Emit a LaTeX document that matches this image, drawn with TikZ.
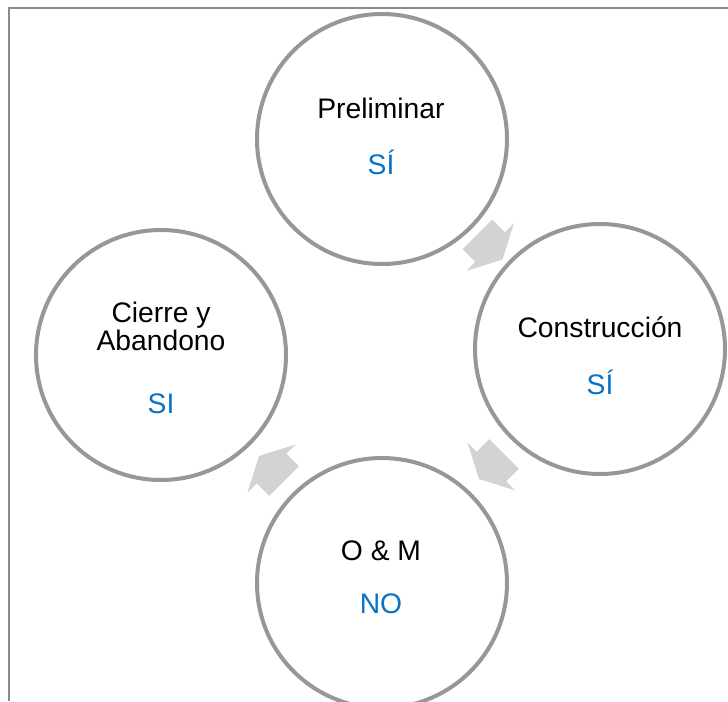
\documentclass[tikz,border=0pt]{standalone}
\usepackage{fontspec}
\setmainfont{Liberation Sans}
\definecolor{ringgray}{HTML}{979797}
\definecolor{framegray}{HTML}{8A8A8A}
\definecolor{arrowgray}{HTML}{D3D3D3}
\definecolor{answerblue}{HTML}{0A72C4}
\begin{document}
\begin{tikzpicture}[x=0.75pt,y=-0.75pt,
  phase/.style={circle, draw=ringgray, line width=3pt, fill=white,
    minimum size=187.5pt, inner sep=0pt},
  label/.style={anchor=base, font=\fontsize{21.2}{25}\selectfont, text=black, inner sep=0pt},
  answer/.style={anchor=base, font=\fontsize{21.2}{25}\selectfont, text=answerblue, inner sep=0pt},
  flow/.style={fill=arrowgray, draw=none}]
\useasboundingbox (0,0) rectangle (728,701);
% frame edges
\draw[framegray, line width=1.5pt] (9,701) -- (9,8) -- (728,8);

% phase circles
\node[phase] (pre) at (382,139) {};
\node[phase] (con) at (600,349) {};
\node[phase] (oym) at (382,583) {};
\node[phase] (cie) at (161,355) {};

% texts
\node[label] (preT) at (381,118) {Preliminar};
\node[answer] (preA) at (381,174) {SÍ};
\node[label] (conT) at (600,337) {Construcción};
\node[answer] (conA) at (600,394) {SÍ};
\node[label] (cieT1) at (161,322) {Cierre y};
\node[label] (cieT2) at (161,350) {Abandono};
\node[answer] (cieA) at (161,413) {SI};
\node[label] (oymT) at (381,560) {O \& M};
\node[answer] (oymA) at (381,613) {NO};

% block arrows between phases
\foreach \cx/\cy/\ang in {490/247/-45, 491.5/466.5/-135, 271.5/468.5/135}{
  \path[flow, shift={(\cx,\cy)}, rotate=\ang]
    (-17.7,-20.9) -- (0,-20.9) -- (0,-34) -- (17.7,0) -- (0,34) -- (0,20.9) -- (-17.7,20.9) -- cycle;
}
\end{tikzpicture}
\end{document}
